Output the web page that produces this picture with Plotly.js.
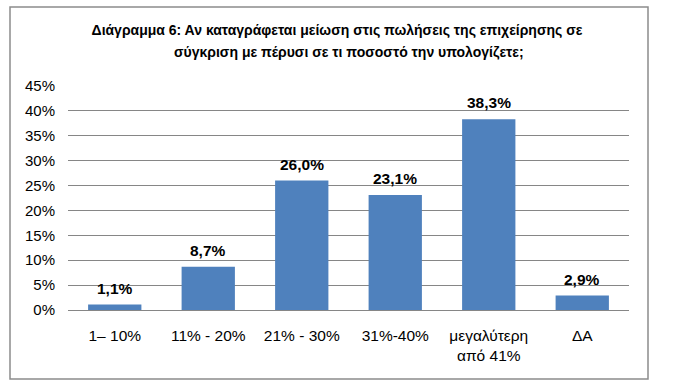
<!DOCTYPE html>
<html>
<head>
<meta charset="utf-8">
<script src="https://cdn.plot.ly/plotly-3.0.1.min.js"></script>
<style>html,body{margin:0;padding:0;background:#fff;}#chart{width:674px;height:388px;}</style>
</head>
<body>
<div id="chart"></div>
<script>
const categories = ["1– 10%", "11% - 20%", "21% - 30%", "31%-40%", "μεγαλύτερη<br>από 41%", "ΔΑ"];
const values = [1.1, 8.7, 26.0, 23.1, 38.3, 2.9];
const titleLine1 = "Διάγραμμα 6: Αν καταγράφεται μείωση στις πωλήσεις της επιχείρησης σε";
const titleLine2 = "σύγκριση με πέρυσι σε τι ποσοστό την υπολογίζετε;";

const FONT = "Liberation Sans, Arial, sans-serif";

const trace = {
  type: "bar",
  x: categories,
  y: values,
  marker: {color: "#4F81BD"},
  hoverinfo: "x+y"
};

const labelAnnotations = categories.map((c, i) => ({
  x: c, y: values[i], xref: "x", yref: "y",
  text: "<b>" + values[i].toFixed(1).replace(".", ",") + "%</b>",
  showarrow: false, yanchor: "bottom", yshift: 6,
  font: {family: FONT, size: 15.5, color: "#000"}
}));

const layout = {
  width: 674, height: 388,
  margin: {l: 68, r: 45, t: 86, b: 78},
  paper_bgcolor: "#fff", plot_bgcolor: "#fff",
  bargap: 0.43,
  showlegend: false,
  separators: ", ",
  title: {
    text: "<b>" + titleLine1 + "</b>",
    x: 0.5, xanchor: "center", xref: "container",
    y: 1 - 30/388, yanchor: "middle", yref: "container",
    font: {family: FONT, size: 14, color: "#000"}
  },
  xaxis: {
    type: "category",
    showgrid: false, zeroline: false, showline: false,
    ticks: "", tickfont: {family: FONT, size: 15.5, color: "#000"},
    ticklabelstandoff: 14
  },
  yaxis: {
    range: [0, 45], dtick: 5, ticksuffix: "%",
    showgrid: true, gridcolor: "#868686", gridwidth: 1,
    zeroline: true, zerolinecolor: "#868686", zerolinewidth: 1,
    showline: false, ticks: "",
    tickfont: {family: FONT, size: 15, color: "#000"},
    ticklabelstandoff: 12
  },
  annotations: [
    {
      text: "<b>" + titleLine2 + "</b>", xref: "paper", yref: "paper",
      x: 0.5, y: (310-52)/224, xanchor: "center", yanchor: "middle",
      showarrow: false, font: {family: FONT, size: 14, color: "#000"}
    }
  ].concat(labelAnnotations),
  shapes: [{
    type: "rect", xref: "paper", yref: "paper",
    x0: (10-68)/561, x1: (648-68)/561,
    y0: (310-379)/224, y1: (310-7)/224,
    line: {color: "#8c8c8c", width: 1.5}, fillcolor: "rgba(0,0,0,0)"
  }]
};

Plotly.newPlot("chart", [trace], layout, {displayModeBar: false, staticPlot: true});
</script>
</body>
</html>
